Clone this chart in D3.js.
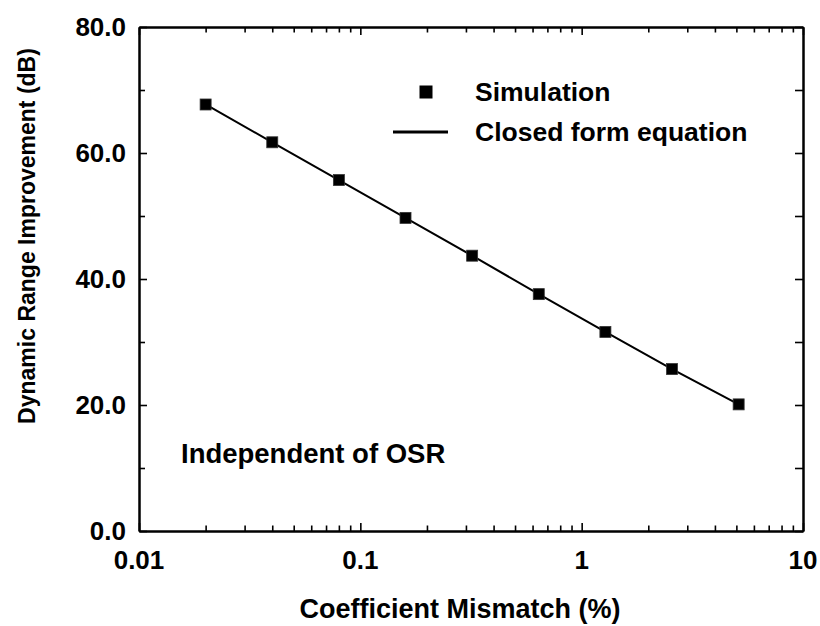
<!DOCTYPE html>
<html>
<head>
<meta charset="utf-8">
<script src="https://cdn.jsdelivr.net/npm/d3@7"></script>
<style>
  html, body { margin: 0; padding: 0; background: #fff; }
  svg { display: block; }
  text { font-family: "Liberation Sans", Arial, Helvetica, sans-serif; font-weight: bold; fill: #000; }
</style>
</head>
<body>
<script>
// ---- data ----
const mismatch   = [0.02, 0.04, 0.08, 0.16, 0.32, 0.64, 1.28, 2.56, 5.12];
const simulation = [67.7, 61.7, 55.7, 49.7, 43.7, 37.6, 31.6, 25.7, 20.1];
const closedForm = [67.7, 61.7, 55.7, 49.7, 43.7, 37.6, 31.6, 25.7, 20.1];
const xMajorTicks = [0.01, 0.1, 1, 10];
const xTickLabels = ["0.01", "0.1", "1", "10"];
const yMajorTicks = [0, 20, 40, 60, 80];
const yTickLabels = ["0.0", "20.0", "40.0", "60.0", "80.0"];
const yMinorTicks = [10, 30, 50, 70];
const xTitle = "Coefficient Mismatch (%)";
const yTitle = "Dynamic Range Improvement (dB)";
const legendLabels = ["Simulation", "Closed form equation"];
const annotation = "Independent of OSR";

// ---- layout ----
const W = 820, H = 626;
const L = 139, R = 803, T = 27, B = 531;

const svg = d3.select("body").append("svg").attr("width", W).attr("height", H);

const x = d3.scaleLog().domain([0.01, 10]).range([L, R]);
const y = d3.scaleLinear().domain([0, 80]).range([B, T]);

const xMinorTicks = [];
[0.01, 0.1, 1].forEach(d => { for (let k = 2; k <= 9; k++) xMinorTicks.push(+(d * k).toPrecision(3)); });

function styleAxis(g) {
  g.selectAll("path.domain").attr("stroke", "#000").attr("stroke-width", 2);
  g.selectAll(".tick line").attr("stroke", "#000").attr("stroke-width", 1.6);
  g.selectAll(".tick text").remove();
}

// bottom axis
svg.append("g").attr("transform", `translate(0,${B})`)
  .call(d3.axisBottom(x).tickValues(xMajorTicks).tickSize(-8).tickSizeOuter(0).tickFormat(""))
  .call(styleAxis);
svg.append("g").attr("transform", `translate(0,${B})`)
  .call(d3.axisBottom(x).tickValues(xMinorTicks).tickSize(-5.5).tickSizeOuter(0).tickFormat(""))
  .call(styleAxis);
// top axis
svg.append("g").attr("transform", `translate(0,${T})`)
  .call(d3.axisTop(x).tickValues(xMajorTicks).tickSize(-8).tickSizeOuter(0).tickFormat(""))
  .call(styleAxis);
svg.append("g").attr("transform", `translate(0,${T})`)
  .call(d3.axisTop(x).tickValues(xMinorTicks).tickSize(-5.5).tickSizeOuter(0).tickFormat(""))
  .call(styleAxis);
// left axis
svg.append("g").attr("transform", `translate(${L},0)`)
  .call(d3.axisLeft(y).tickValues(yMajorTicks).tickSize(-8).tickSizeOuter(0).tickFormat(""))
  .call(styleAxis);
svg.append("g").attr("transform", `translate(${L},0)`)
  .call(d3.axisLeft(y).tickValues(yMinorTicks).tickSize(-6).tickSizeOuter(0).tickFormat(""))
  .call(styleAxis);
// right axis
svg.append("g").attr("transform", `translate(${R},0)`)
  .call(d3.axisRight(y).tickValues(yMajorTicks).tickSize(-8).tickSizeOuter(0).tickFormat(""))
  .call(styleAxis);
svg.append("g").attr("transform", `translate(${R},0)`)
  .call(d3.axisRight(y).tickValues(yMinorTicks).tickSize(-8).tickSizeOuter(0).tickFormat(""))
  .call(styleAxis);

// tick labels
svg.append("g").selectAll("text").data(xMajorTicks).join("text")
  .attr("x", d => x(d)).attr("y", 569)
  .attr("text-anchor", "middle").attr("font-size", 26)
  .text((d, i) => xTickLabels[i]);
svg.append("g").selectAll("text").data(yMajorTicks).join("text")
  .attr("x", 126).attr("y", d => y(d) + 9)
  .attr("text-anchor", "end").attr("font-size", 26)
  .text((d, i) => yTickLabels[i]);

// axis titles
svg.append("text").attr("x", 460).attr("y", 618)
  .attr("text-anchor", "middle").attr("font-size", 27).text(xTitle);
svg.append("text").attr("transform", `translate(35,236) rotate(-90)`)
  .attr("text-anchor", "middle").attr("font-size", 23).text(yTitle);

// closed form line
const line = d3.line().x((d, i) => x(mismatch[i])).y(d => y(d));
svg.append("path").datum(closedForm)
  .attr("d", line).attr("fill", "none").attr("stroke", "#000").attr("stroke-width", 2);

// simulation markers
const ms = 11;
svg.append("g").selectAll("rect").data(simulation).join("rect")
  .attr("x", (d, i) => x(mismatch[i]) - ms / 2)
  .attr("y", d => y(d) - ms / 2)
  .attr("width", ms).attr("height", ms)
  .attr("fill", "#000").attr("stroke", "#333").attr("stroke-width", 0.8);

// legend
svg.append("rect").attr("x", 426 - 6.5).attr("y", 92 - 6.5).attr("width", 13).attr("height", 13).attr("fill", "#000");
svg.append("text").attr("x", 475).attr("y", 101).attr("font-size", 26.5).text(legendLabels[0]);
svg.append("line").attr("x1", 393).attr("x2", 448).attr("y1", 132).attr("y2", 132)
  .attr("stroke", "#000").attr("stroke-width", 3);
svg.append("text").attr("x", 475).attr("y", 141).attr("font-size", 26.5).text(legendLabels[1]);

// annotation
svg.append("text").attr("x", 181).attr("y", 463).attr("font-size", 27.5).text(annotation);
</script>
</body>
</html>
